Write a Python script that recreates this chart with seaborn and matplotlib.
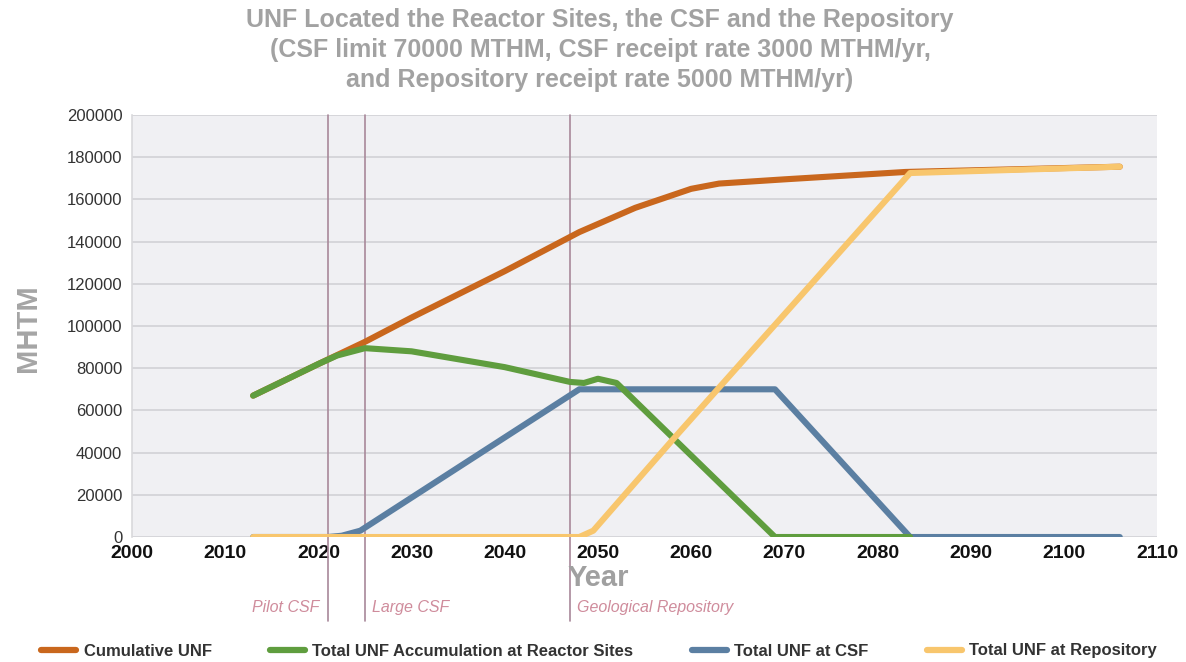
import matplotlib
matplotlib.use("Agg")
import matplotlib.pyplot as plt
import matplotlib.transforms as mtransforms
from matplotlib import font_manager
from matplotlib.lines import Line2D
import pandas as pd
import seaborn as sns

# ---- data (MTHM by year) ----
cum_years = [2013, 2020, 2025, 2030, 2040, 2048, 2054, 2060, 2063, 2070, 2083, 2106]
cum_vals = [67000, 82000, 92500, 104000, 126000, 144500, 156000, 165000, 167500, 169500, 173000, 175500]

site_years = [2013, 2020, 2022, 2025, 2030, 2040, 2047, 2048.5, 2050, 2052, 2069, 2083.5]
site_vals = [67000, 82000, 86000, 89500, 88000, 80500, 73500, 73000, 75000, 73000, 0, 0]

csf_years = [2013, 2021, 2022.5, 2024.5, 2048, 2069, 2083.5, 2106]
csf_vals = [0, 0, 600, 3000, 70000, 70000, 0, 0]

repo_years = [2013, 2048, 2049.5, 2058, 2083.5, 2106]
repo_vals = [0, 0, 3000, 46000, 172500, 175500]

series_names = ["Cumulative UNF", "Total UNF Accumulation at Reactor Sites",
                "Total UNF at CSF", "Total UNF at Repository"]
series_colors = ["#c9671d", "#5f9d3e", "#5b7fa2", "#f8c66d"]

milestone_years = [2021, 2025, 2047]
milestone_labels = ["Pilot CSF", "Large CSF", "Geological Repository"]

x_ticks = list(range(2000, 2111, 10))
y_ticks = list(range(0, 200001, 20000))


def pick_font(*names):
    for n in names:
        try:
            font_manager.findfont(font_manager.FontProperties(family=n),
                                  fallback_to_default=False)
            return n
        except Exception:
            pass
    return "DejaVu Sans"


sns.set_theme(style="white")
base_font = pick_font("Liberation Sans", "Arial")
plt.rcParams["font.family"] = [base_font, "DejaVu Sans"]

fig = plt.figure(figsize=(11.86, 6.62), dpi=100)
ax = fig.add_axes([0.1113, 0.1888, 0.8643, 0.6375])
ax.set_facecolor("#f0f0f3")

frames = []
for name, xs, ys in zip(series_names,
                        [cum_years, site_years, csf_years, repo_years],
                        [cum_vals, site_vals, csf_vals, repo_vals]):
    frames.append(pd.DataFrame({"Year": xs, "MTHM": ys, "series": name}))
data = pd.concat(frames, ignore_index=True)

# draw order: cumulative, CSF, reactor sites, repository
order_z = {series_names[0]: 2, series_names[2]: 3, series_names[1]: 4, series_names[3]: 5}
for name, color in zip(series_names, series_colors):
    sub = data[data["series"] == name]
    sns.lineplot(data=sub, x="Year", y="MTHM", ax=ax, color=color, lw=4.4,
                 estimator=None, sort=False, legend=False, zorder=order_z[name],
                 solid_capstyle="round", solid_joinstyle="round")

ax.set_xlim(2000, 2110)
ax.set_ylim(0, 200000)
ax.set_xticks(x_ticks)
ax.set_xticklabels([str(t) for t in x_ticks], fontsize=14, fontweight="bold", color="#111111")
ax.set_yticks(y_ticks)
ax.set_yticklabels([str(t) for t in y_ticks], fontsize=12, color="#333333")
ax.tick_params(axis="x", length=0, pad=6)
ax.tick_params(axis="y", length=0, pad=7)
ax.set_xlabel("")
ax.set_ylabel("")
ax.yaxis.grid(True, color="#d4d4d8", lw=1.3)
ax.xaxis.grid(False)
ax.set_axisbelow(True)
for s in ["top", "right", "bottom"]:
    ax.spines[s].set_visible(False)
ax.spines["left"].set_color("#d9d9dc")
ax.spines["left"].set_linewidth(1.2)

# milestone markers extending below the axis
trans = mtransforms.blended_transform_factory(ax.transData, ax.transAxes)
for yr, lab in zip(milestone_years, milestone_labels):
    ax.axvline(yr, ymin=-0.2, ymax=1.0, clip_on=False, color="#a8889a", lw=1.2, zorder=1)
    if lab == "Pilot CSF":
        ax.text(yr - 0.9, -0.168, lab, transform=trans, ha="right", va="center",
                fontsize=11.5, style="italic", color="#cf8c9c")
    else:
        ax.text(yr + 0.8, -0.168, lab, transform=trans, ha="left", va="center",
                fontsize=11.5, style="italic", color="#cf8c9c")

# titles and axis names
title_lines = ["UNF Located the Reactor Sites, the CSF and the Repository",
               "(CSF limit 70000 MTHM, CSF receipt rate 3000 MTHM/yr,",
               "and Repository receipt rate 5000 MTHM/yr)"]
for i, line in enumerate(title_lines):
    fig.text(600 / 1186, 1 - (20 + 30 * i) / 662, line, ha="center", va="center",
             fontsize=18, fontweight="bold", color="#a2a2a2")

fig.text(28 / 1186, 1 - 328 / 662, "MHTM", rotation=90, ha="center", va="center",
         fontsize=21, fontweight="bold", color="#a5a5a5")
fig.text(598 / 1186, 1 - 578 / 662, "Year", ha="center", va="center",
         fontsize=21, fontweight="bold", color="#a0a0a0")

handles = [Line2D([0], [0], color=c, lw=4.5, solid_capstyle="round") for c in series_colors]
fig.legend(handles, series_names, loc="center", bbox_to_anchor=(599 / 1186, 1 - 651 / 662),
           ncol=4, frameon=False, handlelength=2.1, handletextpad=0.45, columnspacing=3.5,
           prop={"weight": "bold", "size": 12}, labelcolor="#333333",
           borderpad=0, borderaxespad=0)

fig.savefig("out.png", dpi=100, facecolor="white")
